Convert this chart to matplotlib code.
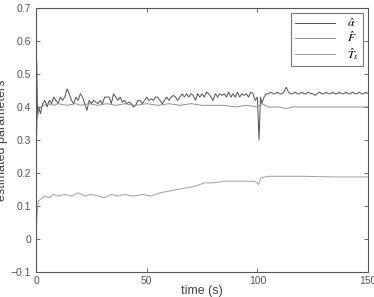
import matplotlib
matplotlib.use("Agg")
import matplotlib.pyplot as plt

# ---- data ----
t_alpha = [0, 0.3, 0.7, 1.2, 2] + list(range(3, 101)) + [100.7, 101.4] + list(range(102, 151))
alpha = [0.0, 0.54, 0.37, 0.40, 0.38,
         0.41, 0.42, 0.40, 0.42, 0.41, 0.43, 0.42, 0.41, 0.43, 0.42,  # 3-12
         0.43, 0.455, 0.44, 0.42, 0.41, 0.43, 0.42, 0.44, 0.43, 0.41,  # 13-22
         0.39, 0.42, 0.41, 0.42, 0.415, 0.41, 0.42, 0.41, 0.43, 0.43,  # 23-32
         0.43, 0.41, 0.44, 0.43, 0.42, 0.43, 0.415, 0.42, 0.41, 0.415,  # 33-42
         0.41, 0.40, 0.405, 0.42, 0.42, 0.41, 0.42, 0.43, 0.42, 0.425,  # 43-52
         0.42, 0.43, 0.43, 0.42, 0.41, 0.42, 0.43, 0.42, 0.43, 0.435,  # 53-62
         0.43, 0.42, 0.43, 0.44, 0.43, 0.44, 0.43, 0.44, 0.435, 0.42,  # 63-72
         0.44, 0.43, 0.44, 0.43, 0.445, 0.44, 0.43, 0.42, 0.44, 0.43,  # 73-82
         0.44, 0.435, 0.44, 0.43, 0.445, 0.43, 0.44, 0.43, 0.445, 0.43,  # 83-92
         0.44, 0.435, 0.44, 0.43, 0.445, 0.44, 0.42, 0.43,  # 93-100
         0.30, 0.43,
         0.41, 0.43, 0.44, 0.44, 0.445, 0.44, 0.44, 0.445, 0.44, 0.44,  # 102-111
         0.445, 0.46, 0.445, 0.44, 0.44, 0.445, 0.44, 0.44, 0.445, 0.44,  # 112-121
         0.44, 0.445, 0.44, 0.44, 0.435, 0.44, 0.445, 0.44, 0.44, 0.445,  # 122-131
         0.44, 0.44, 0.445, 0.44, 0.44, 0.445, 0.44, 0.44, 0.445, 0.44,  # 132-141
         0.44, 0.445, 0.44, 0.44, 0.445, 0.44, 0.44, 0.445, 0.44]  # 142-150

t_F = [0, 0.5, 1, 2, 5, 8, 10, 14, 18, 20, 24, 28, 32, 36, 40, 45, 50, 55, 60, 65,
       70, 75, 80, 85, 90, 95, 100, 102, 105, 110, 113, 116, 120, 130, 140, 150]
F = [0.25, 0.36, 0.39, 0.40, 0.41, 0.405, 0.41, 0.405, 0.41, 0.405, 0.41, 0.405,
     0.41, 0.405, 0.41, 0.405, 0.41, 0.405, 0.41, 0.405, 0.41, 0.405, 0.405,
     0.405, 0.40, 0.405, 0.40, 0.41, 0.40, 0.40, 0.395, 0.40, 0.40, 0.40, 0.40, 0.40]

t_T = [0, 0.5, 1, 2, 4, 6, 8, 10, 13, 16, 19, 22, 25, 28, 31, 34, 37, 40, 44, 48,
       52, 56, 60, 64, 68, 72, 76, 80, 85, 90, 95, 99, 100.5, 101.5, 105, 120, 135, 150]
T_s = [0.0, 0.08, 0.115, 0.12, 0.13, 0.125, 0.135, 0.13, 0.135, 0.13, 0.14, 0.13,
       0.135, 0.13, 0.125, 0.135, 0.13, 0.135, 0.13, 0.135, 0.13, 0.14, 0.145,
       0.15, 0.155, 0.16, 0.17, 0.17, 0.175, 0.175, 0.175, 0.175, 0.165, 0.185,
       0.19, 0.19, 0.188, 0.188]

labels = [r'$\hat{\alpha}$', r'$\hat{F}$', r'$\hat{T}_s$']
x_ticks = [0, 50, 100, 150]
y_ticks = [-0.1, 0, 0.1, 0.2, 0.3, 0.4, 0.5, 0.6, 0.7]
y_ticklabels = ['\u22120.1', '0', '0.1', '0.2', '0.3', '0.4', '0.5', '0.6', '0.7']

# ---- plot ----
plt.rcParams['font.family'] = ['Liberation Sans', 'DejaVu Sans']
plt.rcParams['mathtext.fontset'] = 'stix'
fig = plt.figure(figsize=(3.74, 2.97), dpi=100)
ax = fig.add_axes([0.0963, 0.0842, 0.888, 0.889])
ax.plot(t_alpha, alpha, color='#505050', lw=0.7, label=labels[0])
ax.plot(t_F, F, color='#909090', lw=0.7, label=labels[1])
ax.plot(t_T, T_s, color='#a0a0a0', lw=0.7, label=labels[2])

ax.set_xlim(0, 150)
ax.set_ylim(-0.1, 0.7)
ax.set_xticks(x_ticks)
ax.set_yticks(y_ticks)
ax.set_yticklabels(y_ticklabels)
ax.tick_params(direction='in', length=3, width=0.6, colors='#555555', labelsize=7.5,
               top=True, right=True)
ax.tick_params(axis='x', pad=3)
for s in ax.spines.values():
    s.set_color('#555555')
    s.set_linewidth(0.8)
ax.set_xlabel('time (s)', fontsize=9, color='#444444', labelpad=-1)
ax.set_ylabel('estimated parameters', fontsize=9, color='#444444', labelpad=2)
leg = ax.legend(loc='upper right', fontsize=8.5, fancybox=False, framealpha=1,
                edgecolor='#777777', handlelength=3.4, borderaxespad=0.45,
                labelspacing=0.05, borderpad=0.35, handletextpad=1.0)
leg.get_frame().set_linewidth(0.8)
fig.savefig('out.png', dpi=100)
